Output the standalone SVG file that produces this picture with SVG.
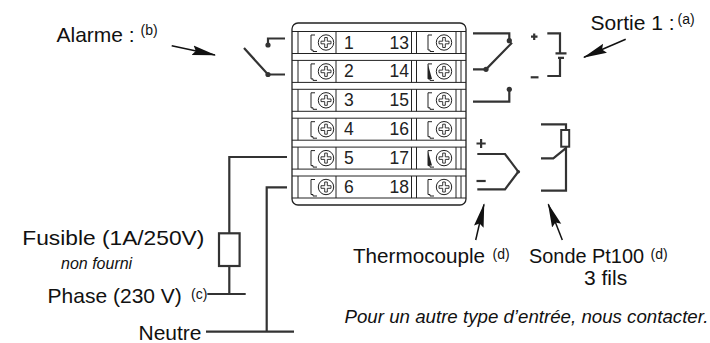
<svg xmlns="http://www.w3.org/2000/svg" xmlns:xlink="http://www.w3.org/1999/xlink" width="710" height="343" viewBox="0 0 710 343">
<style>
.t{font-family:"Liberation Sans",Arial,sans-serif;fill:#111}
.lab{font-size:21px}
.sup{font-size:14px}
.it{font-style:italic}
.num{font-family:"Liberation Sans",Arial,sans-serif;font-size:17.5px;fill:#222}
.w{fill:none;stroke:#333;stroke-width:2.2;stroke-linejoin:miter}
.blk{fill:none;stroke:#222;stroke-width:1}
.arr{fill:none;stroke:#111;stroke-width:1.5}
.dot{fill:#333}
</style>
<defs>
<marker id="ah" markerUnits="userSpaceOnUse" markerWidth="24" markerHeight="12" viewBox="0 0 22 10" refX="21" refY="5" orient="auto">
<path d="M0,0.5 L22,5 L0,9.5 L3,5 Z" fill="#111"/>
</marker>
<g id="screw">
<circle cx="0" cy="0" r="7.7" fill="#fff" stroke="#222" stroke-width="1"/>
<path d="M-1.3,-5 H1.3 V-1.3 H5 V1.3 H1.3 V5 H-1.3 V1.3 H-5 V-1.3 H-1.3 Z" fill="none" stroke="#222" stroke-width="0.9"/>
</g>
<g id="row">
<line x1="292" y1="0" x2="466" y2="0" class="blk"/>
<line x1="292" y1="22" x2="466" y2="22" class="blk"/>
<path d="M298,0V22 M336,0V22 M411.5,0V22 M416.5,0V22 M456,0V22 M461,0V22" class="blk"/>
<path d="M315,3.5 H311 V18.5 H313 V20 H317" class="blk"/>
<path d="M432,3.5 H428 V18.5 H430 V20 H434" class="blk"/>
<use xlink:href="#screw" x="326" y="11"/>
<use xlink:href="#screw" x="444" y="11"/>
</g>
</defs>

<g id="terminal-block">
<rect x="292" y="23" width="174" height="182" rx="6" ry="6" fill="#fff" stroke="#222" stroke-width="1.3"/>
<use xlink:href="#row" y="31.5"/>
<use xlink:href="#row" y="60.4"/>
<use xlink:href="#row" y="89.3"/>
<use xlink:href="#row" y="118.2"/>
<use xlink:href="#row" y="147.1"/>
<use xlink:href="#row" y="176"/>
<polygon points="428,64.5 432,78.9 428,78.9" fill="#222"/>
<polygon points="428,151.2 432,165.6 428,165.6" fill="#222"/>
<text class="num" x="344" y="48.5">1</text>
<text class="num" x="344" y="77.4">2</text>
<text class="num" x="344" y="106.3">3</text>
<text class="num" x="344" y="135.2">4</text>
<text class="num" x="344" y="164.1">5</text>
<text class="num" x="344" y="193">6</text>
<text class="num" x="409" y="48.5" text-anchor="end">13</text>
<text class="num" x="409" y="77.4" text-anchor="end">14</text>
<text class="num" x="409" y="106.3" text-anchor="end">15</text>
<text class="num" x="409" y="135.2" text-anchor="end">16</text>
<text class="num" x="409" y="164.1" text-anchor="end">17</text>
<text class="num" x="409" y="193" text-anchor="end">18</text>
</g>

<g id="alarme">
<path class="w" d="M285,38.5 H268 V45"/>
<circle class="dot" cx="268" cy="45" r="2.6"/>
<path class="w" d="M244,48 L268,74.5 H285"/>
<circle class="dot" cx="268" cy="74.5" r="2.6"/>
<text class="t lab" x="56.5" y="41.7">Alarme :</text>
<text class="t sup" x="140.5" y="35.3">(b)</text>
</g>

<g id="sortie1">
<path class="w" d="M473,33.3 H509.3 V40.7"/>
<circle class="dot" cx="509.3" cy="40.7" r="2.6"/>
<path class="w" d="M473,69.3 H486 L512,42.7"/>
<circle class="dot" cx="486" cy="69.3" r="2.6"/>
<path class="w" d="M473,101.7 H509.3 V89.3"/>
<circle class="dot" cx="509.3" cy="89.3" r="2.6"/>
<path class="w" d="M531,36.7 H537.5 M534.2,33.5 V40"/>
<path class="w" d="M547.3,33.3 H560 V53.3 M555.5,53.3 H566.5 M558,57.8 H564 M560,57.8 V76 H547.3"/>
<path class="w" d="M530.7,77.3 H538.5"/>
<text class="t lab" x="590.5" y="30">Sortie 1 :</text>
<text class="t sup" x="677.5" y="24.3">(a)</text>
</g>

<g id="thermocouple">
<path class="w" d="M476.5,143.5 H485.7 M481.1,139 V148"/>
<path class="w" d="M477.3,154 H505 L518.3,171.7 L505,189.3 H477.3"/>
<circle class="dot" cx="518.3" cy="171.7" r="1.8"/>
<path class="w" d="M476.5,181 H485.7"/>
<text class="t lab" x="353" y="263.3" textLength="132" lengthAdjust="spacingAndGlyphs">Thermocouple</text>
<text class="t sup" x="492.5" y="258.7">(d)</text>
</g>

<g id="pt100">
<path class="w" d="M541,124.3 H566 V130 M566,146.7 V190.7 H541 M541,158.3 H553.3 L565.3,148.7"/>
<rect x="561.2" y="130" width="8" height="16.7" fill="#fff" stroke="#333" stroke-width="2"/>
<text class="t lab" x="529" y="263.3" textLength="115" lengthAdjust="spacingAndGlyphs">Sonde Pt100</text>
<text class="t sup" x="650.5" y="258.7">(d)</text>
<text class="t lab" x="584" y="285">3 fils</text>
</g>

<g id="alimentation">
<path class="w" d="M287,157 H229.3 V233.3 M229.3,266 V294 M207.3,294 H245.7"/>
<rect x="219" y="233.3" width="20.6" height="32.7" fill="#fff" stroke="#333" stroke-width="2.2"/>
<path class="w" d="M287,187.3 H266.7 V331.7 M206,331.7 H294"/>
<text class="t lab" x="22.3" y="245" textLength="182" lengthAdjust="spacingAndGlyphs">Fusible (1A/250V)</text>
<text class="t it" x="61" y="268.5" font-size="16">non fourni</text>
<text class="t lab" x="47.6" y="303">Phase (230 V)</text>
<text class="t sup" x="191" y="298.7">(c)</text>
<text class="t lab" x="138.5" y="340">Neutre</text>
</g>

<g id="connectors">
<line class="arr" x1="171.7" y1="45.7" x2="215" y2="55" marker-end="url(#ah)"/>
<line class="arr" x1="625.7" y1="39.3" x2="584" y2="57.3" marker-end="url(#ah)"/>
<line class="arr" x1="475.7" y1="240" x2="484" y2="204.3" marker-end="url(#ah)"/>
<line class="arr" x1="562.3" y1="240" x2="548.3" y2="204.3" marker-end="url(#ah)"/>
</g>

<text class="t it" x="344.5" y="323.3" font-size="18.6" textLength="364" lengthAdjust="spacingAndGlyphs">Pour un autre type d’entrée, nous contacter.</text>
</svg>
